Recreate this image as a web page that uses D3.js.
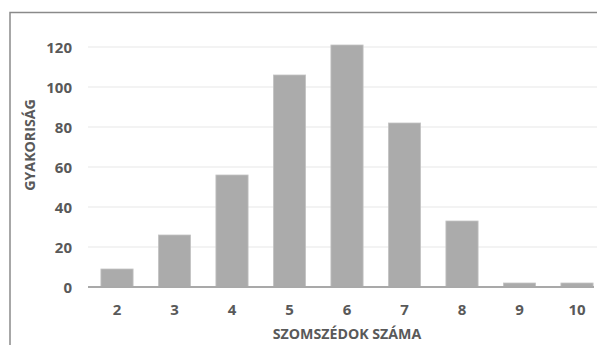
<!DOCTYPE html>
<html><head><meta charset="utf-8">
<script src="https://cdn.jsdelivr.net/npm/d3@7"></script>
<style>body{margin:0;background:#fff}svg{display:block}</style>
</head><body>
<svg id="c" width="597" height="345"></svg>
<script>
const categories = ["2","3","4","5","6","7","8","9","10"];
const values = [9, 26, 56, 106, 121, 82, 33, 2, 2];
const yTicks = [0, 20, 40, 60, 80, 100, 120];
const xTitle = "SZOMSZÉDOK SZÁMA";
const yTitle = "GYAKORISÁG";

const svg = d3.select("#c");
const font = "'Open Sans', sans-serif";
const textColor = "#595959";

// chart frame (cropped on the right / bottom)
svg.append("path").attr("d", "M10,345 V12.5 H597")
  .attr("fill", "none").attr("stroke", "#8a8a8a").attr("stroke-width", 1.5);

const x = d3.scaleBand().domain(categories).range([88.25, 605.75]).paddingInner(0.44).paddingOuter(0.22);
const y = d3.scaleLinear().domain([0, 120]).range([287, 47]);

// gridlines
svg.append("g").selectAll("line").data(yTicks.filter(d => d > 0)).join("line")
  .attr("x1", 88).attr("x2", 597).attr("y1", d => y(d)).attr("y2", d => y(d))
  .attr("stroke", "#efefef").attr("stroke-width", 1.3);

// bars
svg.append("g").selectAll("rect").data(values).join("rect")
  .attr("x", (d, i) => x(categories[i])).attr("width", x.bandwidth())
  .attr("y", d => y(d)).attr("height", d => y(0) - y(d))
  .attr("fill", "#ababab").attr("stroke", "#c4c4c4").attr("stroke-width", 0.8);

// baseline
svg.append("line").attr("x1", 88).attr("x2", 594).attr("y1", y(0)).attr("y2", y(0))
  .attr("stroke", "#a9a9a9").attr("stroke-width", 2);

// y axis
const yAxis = d3.axisLeft(y).tickValues(yTicks).tickSize(0).tickPadding(0);
const gy = svg.append("g").attr("transform", "translate(72,0)").call(yAxis);
gy.select(".domain").remove();
gy.selectAll("text").attr("font-family", font).attr("font-weight", 700)
  .attr("font-size", 15).attr("fill", textColor).attr("dy", "0.35em");

// x axis
const xAxis = d3.axisBottom(x).tickSize(0).tickPadding(0);
const gx = svg.append("g").attr("transform", "translate(0,303)").call(xAxis);
gx.select(".domain").remove();
gx.selectAll("text").attr("font-family", font).attr("font-weight", 700)
  .attr("font-size", 15).attr("fill", textColor).attr("dy", "0.35em").attr("y", 7);

// titles
svg.append("text").attr("x", 347).attr("y", 339).attr("text-anchor", "middle")
  .attr("font-family", font).attr("font-weight", 700).attr("font-size", 14.2)
  .attr("fill", textColor).text(xTitle);
svg.append("text").attr("transform", "translate(35,145) rotate(-90)").attr("text-anchor", "middle")
  .attr("font-family", font).attr("font-weight", 700).attr("font-size", 14.2)
  .attr("fill", textColor).text(yTitle);
</script>
</body></html>
